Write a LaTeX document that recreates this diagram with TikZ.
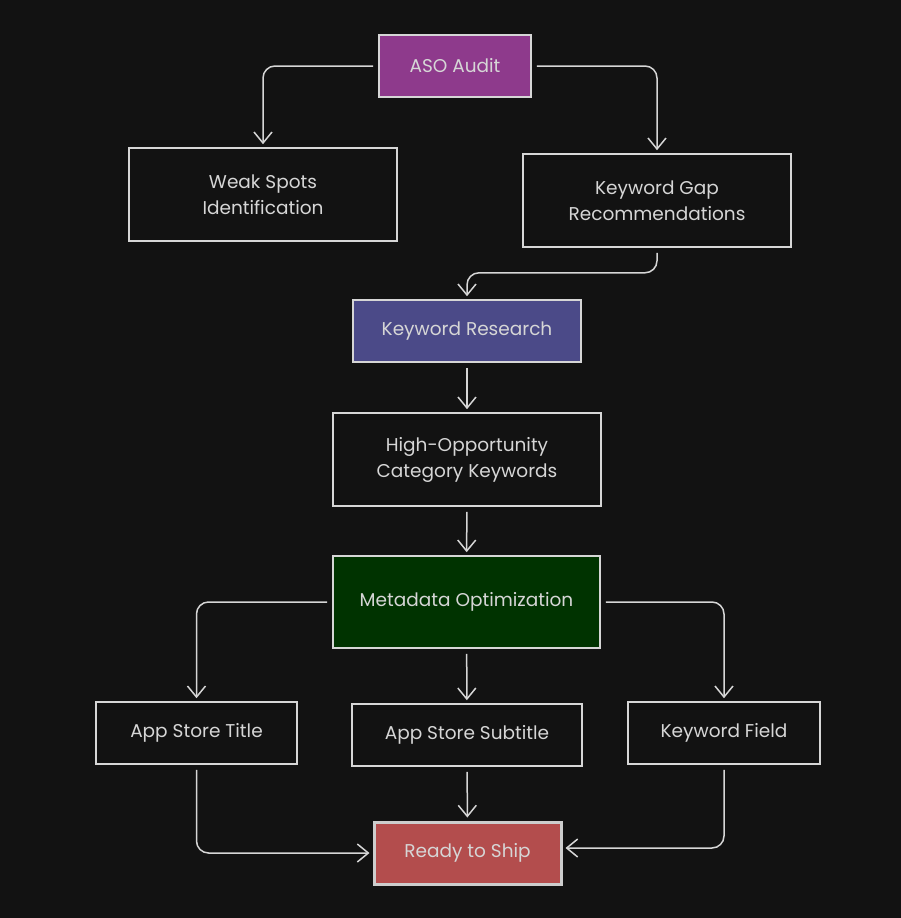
\documentclass[tikz,border=0pt]{standalone}
\usepackage{fontspec}
\setmainfont{Poppins}
\usetikzlibrary{arrows.meta}
\definecolor{bg}{HTML}{121212}
\definecolor{ink}{HTML}{D6D6D6}
\definecolor{auditfill}{HTML}{8E3A8C}
\definecolor{researchfill}{HTML}{4B4A88}
\definecolor{metafill}{HTML}{003300}
\definecolor{shipfill}{HTML}{B34D4D}
\begin{document}
\begin{tikzpicture}[x=1pt,y=-1pt,>={Straight Barb[length=11pt,width=18pt]},line width=1.6pt,
    box/.style={rectangle,draw=ink,text=ink,align=center,inner sep=0pt,
      font=\fontsize{18.5}{26}\selectfont},
    flow/.style={->,draw=ink,line width=1.5pt,rounded corners=12pt,shorten <=5pt,shorten >=3pt}]
    % canvas
    \fill[bg] (0,0) rectangle (901,918);
    \useasboundingbox (0,0) rectangle (901,918);
    % nodes
    \node[box,fill=auditfill,minimum width=152pt,minimum height=62pt] (audit) at (455,66) {ASO Audit};
    \node[box,minimum width=268pt,minimum height=93pt] (weak) at (263,194.5) {Weak Spots\\Identification};
    \node[box,minimum width=268pt,minimum height=93pt] (gap) at (657,200.5) {Keyword Gap\\Recommendations};
    \node[box,fill=researchfill,minimum width=228pt,minimum height=62pt] (research) at (467,331) {Keyword Research};
    \node[box,minimum width=268pt,minimum height=93pt] (highopp) at (467,459.5) {High-Opportunity\\Category Keywords};
    \node[box,fill=metafill,minimum width=267pt,minimum height=92pt] (meta) at (466.5,602) {Metadata Optimization};
    \node[box,minimum width=201pt,minimum height=62pt] (title) at (196.5,733) {App Store Title};
    \node[box,minimum width=230pt,minimum height=62pt] (subtitle) at (467,735) {App Store Subtitle};
    \node[box,minimum width=192pt,minimum height=62pt] (field) at (724,733) {Keyword Field};
    \node[box,fill=shipfill,draw=ink!90!gray,line width=3pt,minimum width=187pt,minimum height=62pt] (ship) at (467.5,853) {Ready to Ship};
    % arrows
    \draw[flow] (audit.west) -| (weak.north);
    \draw[flow] (audit.east) -| (gap.north);
    \draw[flow] (gap.south) -- ++(0,25) -| (research.north);
    \draw[flow] (research) -- (highopp);
    \draw[flow] (highopp) -- (meta);
    \draw[flow] (meta.west) -| (title.north);
    \draw[flow] (meta) -- (subtitle);
    \draw[flow] (meta.east) -| (field.north);
    \draw[flow] (title.south) |- (ship.west);
    \draw[flow] (subtitle) -- (ship);
    \draw[flow] (field.south) |- ([yshift=5pt]ship.east);
\end{tikzpicture}
\end{document}
